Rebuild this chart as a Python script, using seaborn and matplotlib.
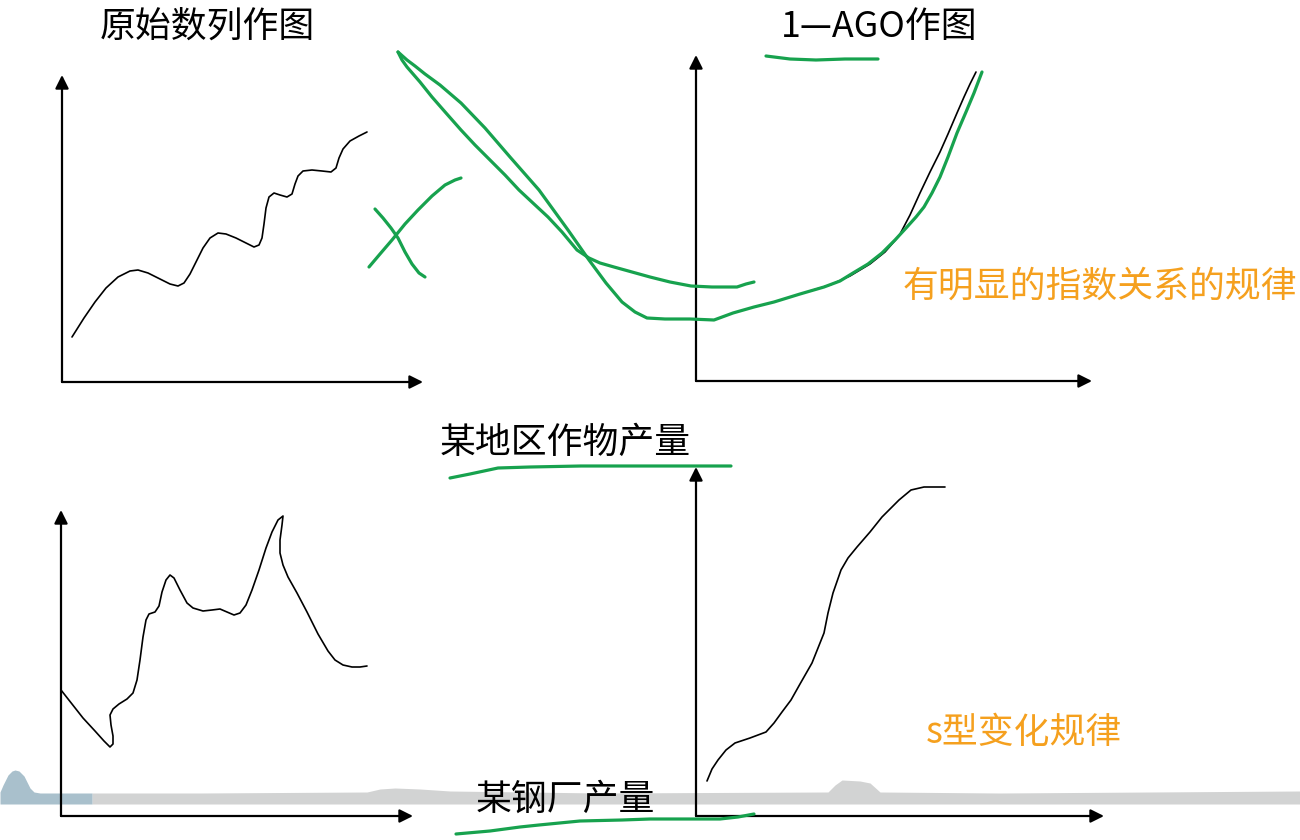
import numpy as np
import pandas as pd

import matplotlib
matplotlib.use('Agg')
import matplotlib.pyplot as plt
import seaborn as sns

sns.set_theme(style='white')
plt.rcParams['font.family'] = ['Noto Sans CJK SC', 'DejaVu Sans']

# --- curve values (pixel space, y grows downwards) ---
# original series (top left)
orig_x = [72, 84, 95, 106, 118, 130, 138, 148, 160, 170, 178, 184, 190, 196, 203, 210, 218, 226,
          236, 246, 254, 259, 262, 264, 266, 269, 274, 280, 287, 292, 295, 298, 303, 312, 322,
          331, 336, 339, 343, 350, 359, 367]
orig_y = [337, 318, 302, 288, 277, 271, 270, 273, 279, 284, 286, 283, 274, 262, 248, 238, 233, 234,
          238, 243, 247, 245, 238, 224, 208, 197, 193, 195, 197, 194, 184, 176, 171, 170, 171,
          172, 168, 158, 149, 141, 136, 132]

# 1-AGO series (top right)
ago_x = [810, 830, 850, 870, 885, 899, 910, 920, 930, 940, 948, 957, 964, 970, 976]
ago_y = [291, 285, 276, 264, 252, 236, 215, 193, 172, 152, 134, 113, 97, 84, 72]

# steel output (bottom left)
steel_x = [61, 72, 83, 95, 104, 110, 113, 113, 111, 110, 113, 119, 127, 133, 137, 140, 143, 146,
           149, 155, 159, 162, 166, 170, 174, 180, 187, 193, 203, 212, 220, 227, 234, 240, 246,
           252, 259, 266, 272, 278, 283, 282, 280, 280, 283, 288, 297, 307, 318, 328, 335, 343,
           352, 360, 367]
steel_y = [690, 704, 718, 731, 741, 747, 744, 736, 725, 715, 709, 704, 699, 693, 680, 660, 637, 620,
           614, 612, 606, 592, 580, 575, 578, 590, 603, 608, 611, 610, 609, 612, 615, 613, 605,
           590, 570, 548, 532, 520, 516, 525, 540, 553, 565, 577, 593, 612, 634, 651, 660, 665,
           667, 667, 666]

# crop output, s-shape (bottom right)
crop_x = [707, 712, 718, 726, 735, 750, 766, 774, 782, 791, 800, 812, 818, 824, 828, 833, 841, 848,
          857, 870, 882, 899, 911, 924, 935, 945]
crop_y = [781, 769, 760, 750, 743, 738, 732, 723, 712, 700, 684, 663, 648, 633, 613, 593, 570, 558,
          547, 532, 517, 500, 490, 487, 487, 487]

# green hand-written strokes
pen1_x = [398, 407, 415, 425, 440, 461, 485, 510, 539, 568, 589, 606, 622, 635, 647, 665, 690, 714,
          733, 754, 774, 800, 824, 840, 853, 868, 882, 895, 907, 916, 924, 932, 940, 948, 957,
          966, 974, 982]
pen1_y = [52, 60, 66, 74, 85, 103, 128, 157, 190, 230, 260, 283, 302, 312, 318, 319, 319, 320,
          313, 307, 302, 294, 287, 281, 273, 264, 253, 240, 227, 217, 207, 193, 177, 157, 133,
          112, 93, 72]
pen2_x = [398, 402, 407, 420, 432, 446, 461, 475, 490, 505, 519, 534, 548, 562, 577, 589, 600, 614,
          632, 650, 670, 691, 712, 737, 746, 754]
pen2_y = [52, 60, 67, 82, 97, 113, 130, 145, 160, 175, 190, 204, 217, 232, 250, 258, 263, 267,
          272, 277, 282, 286, 287, 287, 284, 282]
cross_a_x = [369, 380, 392, 405, 418, 432, 445, 455, 461]
cross_a_y = [267, 254, 240, 224, 210, 196, 185, 180, 178]
cross_b_x = [375, 383, 391, 398, 405, 412, 419, 425]
cross_b_y = [209, 218, 228, 238, 252, 264, 273, 277]
line_ago_x = [766, 790, 816, 845, 878]
line_ago_y = [56, 59, 60, 59, 59]
line_crop_x = [450, 470, 498, 530, 581, 650, 731]
line_crop_y = [478, 474, 468, 467, 466, 466, 466]
line_steel_x = [456, 490, 520, 539, 580, 622, 650, 720, 738, 754]
line_steel_y = [834, 831, 827, 825, 821, 820, 819, 819, 817, 814]

# slide footer decoration
band_x = [92, 200, 367, 380, 395, 420, 450, 600, 828, 835, 842, 860, 870, 880, 1000, 1300]
band_top = [793, 793, 792, 789, 788, 789, 791, 793, 792, 785, 780, 781, 783, 792, 793, 791]
blue_x = [0, 3, 8, 12, 15, 19, 24, 30, 34, 40, 92]
blue_top = [792, 785, 775, 771, 770, 771, 776, 788, 792, 793, 793]

# axis frames: origin x, origin y, arrow tip x, arrow tip y
frames = [(62, 382, 423, 75), (696, 381, 1092, 55), (61, 816, 413, 510), (696, 816, 1104, 467)]

labels = [('原始数列作图', 100, 27, 'black'),
          ('1—AGO作图', 781, 27, 'black'),
          ('有明显的指数关系的规律', 903, 287, '#F5A01E'),
          ('某地区作物产量', 440, 443, 'black'),
          ('s型变化规律', 926, 733, '#F5A01E'),
          ('某钢厂产量', 476, 800, 'black')]

green = '#17A24E'

fig = plt.figure(figsize=(13, 8.4), dpi=100)
ax = fig.add_axes([0, 0, 1, 1])
ax.set_xlim(0, 1300)
ax.set_ylim(840, 0)
ax.axis('off')

ax.fill_between(band_x, band_top, 804, color='#D2D3D3', lw=0, zorder=0)
ax.fill_between(blue_x, blue_top, 804, color='#A9C0CC', lw=0, zorder=0)

for x0, y0, xt, yt in frames:
    for tip in [(xt, y0), (x0, yt)]:
        ax.annotate('', xy=tip, xytext=(x0, y0),
                    arrowprops=dict(arrowstyle='-|>', color='black', lw=1.6,
                                    mutation_scale=20, shrinkA=0, shrinkB=0), zorder=2)

for xs, ys in [(orig_x, orig_y), (ago_x, ago_y), (steel_x, steel_y), (crop_x, crop_y)]:
    sns.lineplot(x=xs, y=ys, sort=False, estimator=None, color='black', lw=1.2, ax=ax, zorder=3)

strokes = [(pen1_x, pen1_y), (pen2_x, pen2_y), (cross_a_x, cross_a_y), (cross_b_x, cross_b_y),
           (line_ago_x, line_ago_y), (line_crop_x, line_crop_y), (line_steel_x, line_steel_y)]
for xs, ys in strokes:
    sns.lineplot(x=xs, y=ys, sort=False, estimator=None, color=green, lw=2.3, ax=ax, zorder=4,
                 solid_capstyle='round', solid_joinstyle='round')

for text, x, y, c in labels:
    ax.text(x, y, text, fontsize=25.8, color=c, ha='left', va='center', zorder=5,
            fontweight='light' if c == 'black' else 'normal')

fig.savefig('out.png', dpi=100)
